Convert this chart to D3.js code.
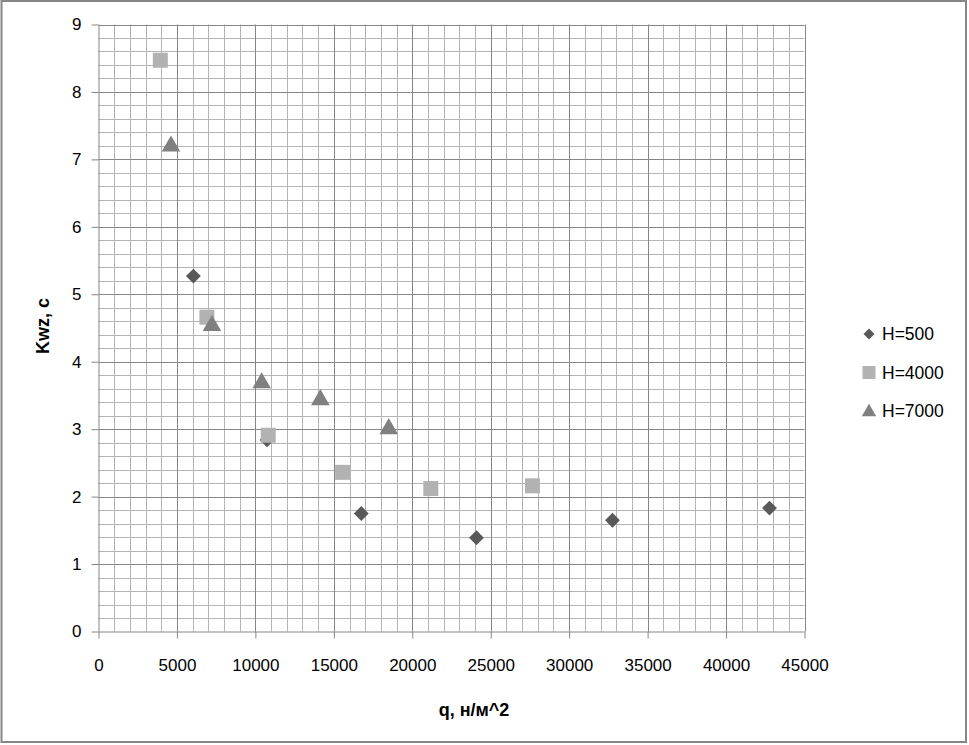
<!DOCTYPE html>
<html><head><meta charset="utf-8">
<script src="https://cdn.jsdelivr.net/npm/d3@7/dist/d3.min.js"></script>
<style>body{margin:0;background:#fff}svg{display:block}</style>
</head><body>
<script>
const seriesNames = ["H=500", "H=4000", "H=7000"];
const h500 = [[6050, 5.27], [10740, 2.84], [16750, 1.75], [24090, 1.39], [32760, 1.65], [42770, 1.83]];
const h4000 = [[3940, 8.47], [6910, 4.66], [10820, 2.91], [15560, 2.36], [21180, 2.12], [27660, 2.16]];
const h7000 = [[4620, 7.21], [7230, 4.55], [10400, 3.70], [14140, 3.45], [18500, 3.02]];
const xTicks = [0, 5000, 10000, 15000, 20000, 25000, 30000, 35000, 40000, 45000];
const yTicks = [0, 1, 2, 3, 4, 5, 6, 7, 8, 9];
const xTitle = "q, н/м^2";
const yTitle = "Kwz, c";

const W = 969, H = 745;
const svg = d3.select("body").append("svg").attr("width", W).attr("height", H);
svg.append("rect").attr("x", 1.5).attr("y", 1).attr("width", 964.5).attr("height", 741)
  .attr("fill", "#fff").attr("stroke", "#868686").attr("stroke-width", 2);

const x = d3.scaleLinear().domain([0, 45000]).range([98.5, 804.5]);
const y = d3.scaleLinear().domain([0, 9]).range([631.5, 24.5]);
const font = "'Liberation Sans', Arial, sans-serif";

const g = svg.append("g");
// minor grid
const xMinor = d3.range(1000, 45000, 1000).filter(v => v % 5000 !== 0);
const yMinor = d3.range(1, 45).map(i => i * 0.2).filter(v => Math.abs(v - Math.round(v)) > 1e-6);
g.selectAll(".xm").data(xMinor).join("line")
  .attr("x1", d => Math.round(x(d)) + 0.5).attr("x2", d => Math.round(x(d)) + 0.5)
  .attr("y1", y(9)).attr("y2", y(0)).attr("stroke", "#b4b4b4").attr("stroke-width", 1);
g.selectAll(".ym").data(yMinor).join("line")
  .attr("y1", d => Math.round(y(d)) + 0.5).attr("y2", d => Math.round(y(d)) + 0.5)
  .attr("x1", x(0)).attr("x2", x(45000)).attr("stroke", "#b4b4b4").attr("stroke-width", 1);
// major grid
g.selectAll(".xM").data(xTicks.slice(1)).join("line")
  .attr("x1", d => Math.round(x(d)) + 0.5).attr("x2", d => Math.round(x(d)) + 0.5)
  .attr("y1", y(9)).attr("y2", y(0)).attr("stroke", "#868686").attr("stroke-width", 1);
g.selectAll(".yM").data(yTicks.slice(1)).join("line")
  .attr("y1", d => Math.round(y(d)) + 0.5).attr("y2", d => Math.round(y(d)) + 0.5)
  .attr("x1", x(0)).attr("x2", x(45000)).attr("stroke", "#868686").attr("stroke-width", 1);

// axes
const xAxis = d3.axisBottom(x).tickValues(xTicks).tickSize(7).tickPadding(20).tickFormat(d3.format("d"));
const yAxis = d3.axisLeft(y).tickValues(yTicks).tickSize(7).tickPadding(10).tickFormat(d3.format("d"));
const ax = svg.append("g").attr("transform", `translate(0,${y(0)})`).call(xAxis);
const ay = svg.append("g").attr("transform", `translate(${x(0)},0)`).call(yAxis);
[ax, ay].forEach(a => {
  a.selectAll("path,line").attr("stroke", "#868686");
  a.selectAll("text").attr("font-family", font).attr("font-size", 17).attr("fill", "#000");
});
ax.select(".domain").attr("d", `M${x(0)},0.5H${x(45000)}`);
ay.select(".domain").attr("d", `M0.5,${y(0)}V${y(9)}`);

// markers
const cols = ["#595959", "#b2b2b2", "#808080"];
const diamond = d3.symbol().type(d3.symbolSquare).size(110);
svg.append("g").selectAll("path").data(h500).join("path")
  .attr("d", diamond).attr("fill", cols[0])
  .attr("transform", d => `translate(${x(d[0])},${y(d[1])}) rotate(45)`);
svg.append("g").selectAll("rect").data(h4000).join("rect")
  .attr("x", d => x(d[0]) - 7.5).attr("y", d => y(d[1]) - 7.5).attr("width", 15).attr("height", 15)
  .attr("fill", cols[1]);
const tri = d3.symbol().type(d3.symbolTriangle).size(150);
svg.append("g").selectAll("path").data(h7000).join("path")
  .attr("d", tri).attr("fill", cols[2])
  .attr("transform", d => `translate(${x(d[0])},${y(d[1]) + 1})`);

// legend
const lg = svg.append("g");
const ly = [334, 372.5, 411];
seriesNames.forEach((n, i) => {
  const cx = 869, cy = ly[i];
  if (i === 0) lg.append("path").attr("d", d3.symbol().type(d3.symbolSquare).size(60)).attr("fill", cols[0]).attr("transform", `translate(${cx},${cy}) rotate(45)`);
  if (i === 1) lg.append("rect").attr("x", cx - 6.5).attr("y", cy - 6.5).attr("width", 13).attr("height", 13).attr("fill", cols[1]);
  if (i === 2) lg.append("path").attr("d", d3.symbol().type(d3.symbolTriangle).size(90)).attr("fill", cols[2]).attr("transform", `translate(${cx},${cy + 1})`);
  lg.append("text").attr("x", 882).attr("y", cy).attr("dy", "0.35em").attr("font-family", font).attr("font-size", 17.5).text(n);
});

// titles
svg.append("text").attr("x", 474).attr("y", 710).attr("dy", "0.35em").attr("text-anchor", "middle")
  .attr("font-family", font).attr("font-size", 18).attr("font-weight", "bold").text(xTitle);
svg.append("text").attr("transform", "translate(43,326) rotate(-90)").attr("dy", "0.35em").attr("text-anchor", "middle")
  .attr("font-family", font).attr("font-size", 18).attr("font-weight", "bold").text(yTitle);
</script>
</body></html>
